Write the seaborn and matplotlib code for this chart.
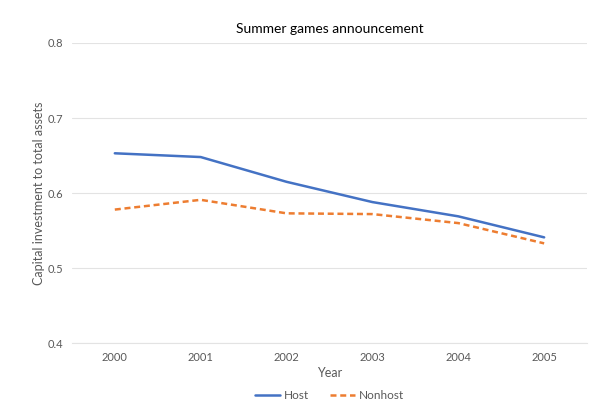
import numpy as np
import pandas as pd
import matplotlib
matplotlib.use("Agg")
import matplotlib.pyplot as plt
import seaborn as sns

# data
years = [2000, 2001, 2002, 2003, 2004, 2005]
host = [0.653, 0.648, 0.615, 0.588, 0.569, 0.541]
nonhost = [0.578, 0.591, 0.573, 0.572, 0.560, 0.533]
groups = ["Host", "Nonhost"]
colors = ["#4472C4", "#ED7D31"]

df = pd.DataFrame({
    "Year": years * 2,
    "value": host + nonhost,
    "group": [groups[0]] * len(years) + [groups[1]] * len(years),
})

sns.set_style("white")
plt.rcParams["font.family"] = ["Lato", "DejaVu Sans"]

fig = plt.figure(figsize=(6.04, 4.17), dpi=100)
ax = fig.add_axes([0.119, 0.177, 0.853, 0.72])

sns.lineplot(data=df, x="Year", y="value", hue="group", style="group",
             palette=dict(zip(groups, colors)),
             dashes={"Host": "", "Nonhost": (2.4, 1.5)},
             linewidth=1.8, ax=ax, legend=True)

ax.set_ylim(0.4, 0.8)
ax.set_yticks([0.4, 0.5, 0.6, 0.7, 0.8])
ax.set_xlim(1999.5, 2005.5)
ax.set_xticks(years)
ax.set_xticklabels([str(y) for y in years])
ax.yaxis.grid(True, color="#E3E3E3", linewidth=0.8)
ax.set_axisbelow(True)
for s in ax.spines.values():
    s.set_visible(False)
ax.spines["bottom"].set_visible(True)
ax.spines["bottom"].set_color("#E3E3E3")
ax.tick_params(axis="both", length=0, colors="#595959", labelsize=8, pad=6)

ax.set_title("Summer games announcement", fontsize=10, color="#000000", pad=7)
ax.set_xlabel("Year", fontsize=9, color="#595959", labelpad=3)
ax.set_ylabel("Capital investment to total assets", fontsize=9, color="#595959", labelpad=2)

ax.legend(loc="upper center", bbox_to_anchor=(0.5, -0.12), ncol=2, frameon=False,
          fontsize=8.5, labelcolor="#595959", handlelength=2.1, columnspacing=1.8,
          handletextpad=0.3)

fig.savefig("out.png", dpi=100)
